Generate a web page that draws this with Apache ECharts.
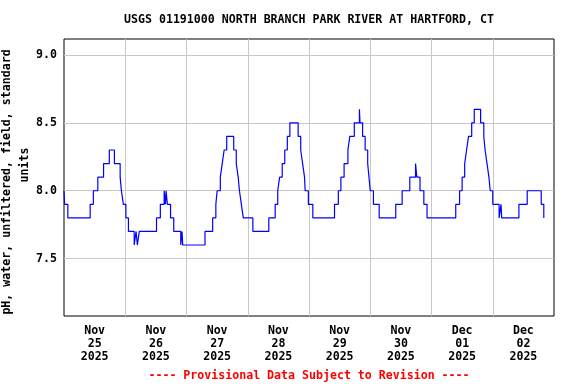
<!DOCTYPE html>
<html><head><meta charset="utf-8">
<script src="https://cdn.jsdelivr.net/npm/echarts@6/dist/echarts.min.js"></script>
<style>html,body{margin:0;padding:0;background:#fff}#c{width:576px;height:384px}</style>
</head><body><div id="c"></div>
<script>
// pH change points (value holds from this time until the next one), year 2025
const times = [
'11-25 00:00','11-25 00:15','11-25 01:30','11-25 10:15','11-25 11:30','11-25 13:15','11-25 15:30','11-25 17:45','11-25 19:45','11-25 22:00','11-25 22:30','11-25 23:15',
'11-26 00:15','11-26 01:15','11-26 03:30','11-26 04:15','11-26 04:45','11-26 05:30','11-26 12:15','11-26 13:45','11-26 15:15','11-26 15:45','11-26 16:00','11-26 16:30','11-26 17:45','11-26 19:00','11-26 21:45','11-26 22:15','11-26 22:30',
'11-27 07:15','11-27 10:15','11-27 11:30','11-27 12:00','11-27 13:15','11-27 14:00','11-27 14:45','11-27 15:45','11-27 18:30','11-27 19:30','11-27 20:15','11-27 20:45','11-27 21:30','11-27 22:15',
'11-28 02:00','11-28 08:15','11-28 10:45','11-28 11:45','11-28 12:30','11-28 13:30','11-28 14:30','11-28 15:30','11-28 16:30','11-28 19:45','11-28 20:45','11-28 21:30','11-28 22:15','11-28 22:30','11-28 23:45',
'11-29 01:30','11-29 10:00','11-29 11:30','11-29 12:30','11-29 13:45','11-29 15:15','11-29 16:00','11-29 17:45','11-29 19:45','11-29 20:00','11-29 21:00','11-29 22:00','11-29 23:00','11-29 23:30',
'11-30 00:00','11-30 01:15','11-30 03:30','11-30 10:00','11-30 12:30','11-30 15:30','11-30 17:45','11-30 18:15','11-30 19:30','11-30 21:00','11-30 22:15',
'12-01 09:30','12-01 11:00','12-01 12:00','12-01 13:00','12-01 13:45','12-01 14:30','12-01 15:45','12-01 16:45','12-01 19:15','12-01 20:30','12-01 21:00','12-01 21:45','12-01 22:30','12-01 23:00',
'12-02 00:00','12-02 02:30','12-02 03:15','12-02 03:30','12-02 10:15','12-02 13:30','12-02 19:00','12-02 20:00','12-02 20:15'
];
const values = [
8.0,7.9,7.8,7.9,8.0,8.1,8.2,8.3,8.2,8.1,8.0,7.9,
7.8,7.7,7.6,7.7,7.6,7.7,7.8,7.9,8.0,7.9,8.0,7.9,7.8,7.7,7.6,7.7,7.6,
7.7,7.8,7.9,8.0,8.1,8.2,8.3,8.4,8.3,8.2,8.1,8.0,7.9,7.8,
7.7,7.8,7.9,8.0,8.1,8.2,8.3,8.4,8.5,8.4,8.3,8.2,8.1,8.0,7.9,
7.8,7.9,8.0,8.1,8.2,8.3,8.4,8.5,8.6,8.5,8.4,8.3,8.2,8.1,
8.0,7.9,7.8,7.9,8.0,8.1,8.2,8.1,8.0,7.9,7.8,
7.9,8.0,8.1,8.2,8.3,8.4,8.5,8.6,8.5,8.4,8.3,8.2,8.1,8.0,
7.9,7.8,7.9,7.8,7.9,8.0,7.9,7.8,7.8
];
const xStart = '11-25 00:00';
const xEnd = '12-03 00:00';
const gridDays = ['11-26','11-27','11-28','11-29','11-30','12-01','12-02'];
const labelDays = ['11-25','11-26','11-27','11-28','11-29','11-30','12-01','12-02'];
const yTicks = [7.5, 8.0, 8.5, 9.0];
const yMin = 7.077, yMax = 9.118;
const monthNames = ['Jan','Feb','Mar','Apr','May','Jun','Jul','Aug','Sep','Oct','Nov','Dec'];
const titleText = 'USGS 01191000 NORTH BRANCH PARK RIVER AT HARTFORD, CT';
const yName1 = 'pH, water, unfiltered, field, standard';
const yName2 = 'units';
const footerText = '---- Provisional Data Subject to Revision ----';

function ts(s){
  const parts = s.split(' ');
  const md = parts[0].split('-').map(Number);
  const hm = (parts[1] || '00:00').split(':').map(Number);
  return Date.UTC(2025, md[0]-1, md[1], hm[0], hm[1]);
}
function pad(n){ return (n < 10 ? '0' : '') + n; }

const FONT = 'DejaVu Sans Mono';
const FS = 11.6;
const chart = echarts.init(document.getElementById('c'), null, {renderer:'canvas'});
chart.setOption({
  animation: false,
  backgroundColor: '#fff',
  grid: {left: 64, right: 22, top: 39, bottom: 68, show: true, borderColor: '#000', borderWidth: 1, backgroundColor: '#fff'},
  xAxis: {
    type: 'value', min: ts(xStart), max: ts(xEnd),
    axisLine: {show: false},
    axisTick: {show: false, customValues: gridDays.map(d => ts(d + ' 00:00'))},
    splitLine: {show: true, lineStyle: {color: '#c8c8c8', width: 1}},
    axisLabel: {
      customValues: labelDays.map(d => ts(d + ' 12:00')),
      margin: 8, color: '#000', fontFamily: FONT, fontWeight: 'bold', fontSize: FS, lineHeight: 13,
      formatter: function(v){ const d = new Date(v); return monthNames[d.getUTCMonth()] + '\n' + pad(d.getUTCDate()) + '\n' + d.getUTCFullYear(); }
    }
  },
  yAxis: {
    type: 'value', min: yMin, max: yMax,
    axisLine: {show: false},
    axisTick: {show: false, customValues: yTicks},
    splitLine: {show: true, lineStyle: {color: '#c8c8c8', width: 1}},
    axisLabel: {customValues: yTicks, margin: 7, color: '#000', fontFamily: FONT, fontWeight: 'bold', fontSize: FS,
      formatter: v => v.toFixed(1)}
  },
  series: [{
    type: 'line', step: 'end', showSymbol: false, symbol: 'none',
    lineStyle: {color: '#0000ff', width: 1.2},
    data: times.map((t, i) => [ts(t), values[i]])
  }],
  graphic: [
    {type: 'text', x: 309, y: 20, style: {text: titleText, fill: '#000', font: 'bold ' + FS + 'px "' + FONT + '"', align: 'center', verticalAlign: 'middle'}},
    {type: 'text', x: 7, y: 182, rotation: Math.PI/2, style: {text: yName1, fill: '#000', font: 'bold ' + FS + 'px "' + FONT + '"', align: 'center', verticalAlign: 'middle'}},
    {type: 'text', x: 24.5, y: 165, rotation: Math.PI/2, style: {text: yName2, fill: '#000', font: 'bold ' + FS + 'px "' + FONT + '"', align: 'center', verticalAlign: 'middle'}},
    {type: 'text', x: 309, y: 376, style: {text: footerText, fill: '#ff0000', font: 'bold ' + FS + 'px "' + FONT + '"', align: 'center', verticalAlign: 'middle'}}
  ]
});
</script></body></html>
